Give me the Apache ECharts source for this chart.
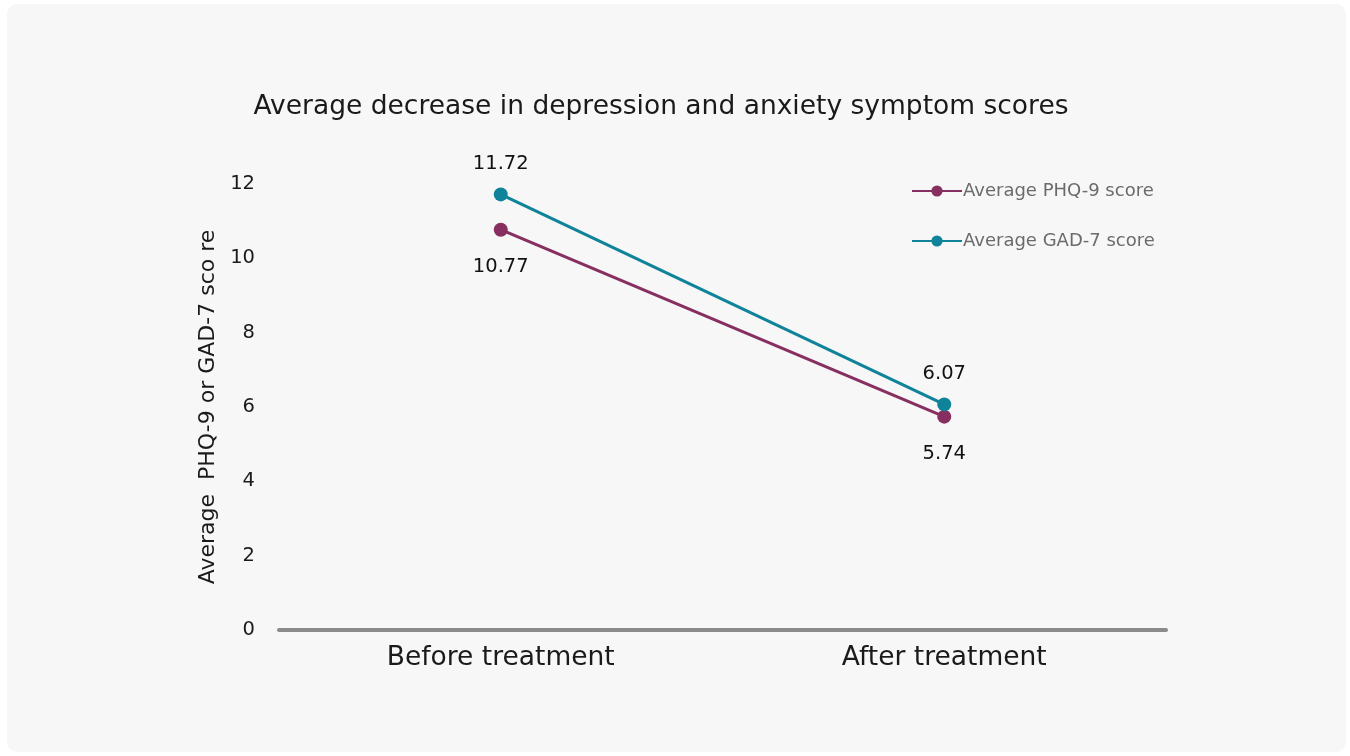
<!DOCTYPE html>
<html>
<head>
<meta charset="utf-8">
<script src="https://cdn.jsdelivr.net/npm/echarts@6/dist/echarts.min.js"></script>
<style>
html,body{margin:0;padding:0;background:#ffffff;}
#card{position:absolute;left:7px;top:4px;width:1339px;height:748px;background:#f7f7f7;border-radius:10px;}
#chart{position:absolute;left:0;top:0;width:1350px;height:756px;}
</style>
</head>
<body>
<div id="card"></div>
<div id="chart"></div>
<script>
const categories = ['Before treatment', 'After treatment'];
const phq9 = [10.77, 5.74];
const gad7 = [11.72, 6.07];
const yTicks = [0, 2, 4, 6, 8, 10, 12];
const titleText = 'Average decrease in depression and anxiety symptom scores';
const yName = 'Average  PHQ-9 or GAD-7 sco re';
const seriesNames = ['Average PHQ-9 score', 'Average GAD-7 score'];

const FONT = 'DejaVu Sans';
const chart = echarts.init(document.getElementById('chart'), null, {renderer: 'canvas'});
chart.setOption({
  backgroundColor: 'transparent',
  textStyle: {fontFamily: FONT},
  title: {
    text: titleText,
    left: 656, top: 89, textAlign: 'center',
    textStyle: {fontFamily: FONT, fontSize: 26.5, fontWeight: 'normal', color: '#1a1a1a'}
  },
  legend: {
    orient: 'vertical', left: 906, top: 177,
    itemWidth: 50, itemHeight: 14, itemGap: 32,
    textStyle: {fontFamily: FONT, fontSize: 18, color: '#6b6b6b', padding: [0,0,0,-4]},
    data: seriesNames
  },
  grid: {left: 279, right: 184, top: 184, bottom: 126, containLabel: false},
  xAxis: {
    type: 'category', data: categories, boundaryGap: true,
    axisLine: {lineStyle: {color: '#8a8a8a', width: 4}},
    axisTick: {show: false},
    axisLabel: {fontFamily: FONT, fontSize: 26.5, color: '#1a1a1a', margin: 15}
  },
  yAxis: {
    type: 'value', min: yTicks[0], max: yTicks[yTicks.length-1], interval: 2,
    name: yName, nameLocation: 'middle', nameGap: 59, nameRotate: 90,
    nameTextStyle: {fontFamily: FONT, fontSize: 22, color: '#1a1a1a'},
    axisLine: {show: false}, axisTick: {show: false}, splitLine: {show: false},
    axisLabel: {fontFamily: FONT, fontSize: 19.5, color: '#1a1a1a', margin: 24}
  },
  series: [
    {
      name: seriesNames[0], type: 'line', data: phq9,
      symbol: 'circle', symbolSize: 14,
      lineStyle: {color: '#862f60', width: 3}, itemStyle: {color: '#862f60'},
      label: {show: true, position: 'bottom', distance: 20, fontFamily: FONT, fontSize: 19.5, color: '#111',
        formatter: p => p.value.toFixed(2)}
    },
    {
      name: seriesNames[1], type: 'line', data: gad7,
      symbol: 'circle', symbolSize: 14,
      lineStyle: {color: '#0f8399', width: 3}, itemStyle: {color: '#0f8399'},
      label: {show: true, position: 'top', distance: 13, fontFamily: FONT, fontSize: 19.5, color: '#111',
        formatter: p => p.value.toFixed(2)}
    }
  ]
});
</script>
</body>
</html>
